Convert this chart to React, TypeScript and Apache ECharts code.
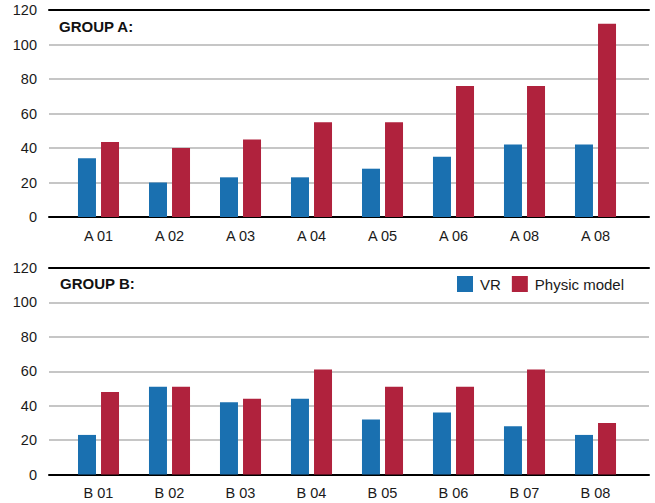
import React, { useEffect, useRef } from "react";
import * as echarts from "echarts";

const categoriesA = ["A 01", "A 02", "A 03", "A 04", "A 05", "A 06", "A 08", "A 08"];
const vrA = [34, 20, 23, 23, 28, 35, 42, 42];
const physicA = [43.5, 40, 45, 55, 55, 76, 76, 112];

const categoriesB = ["B 01", "B 02", "B 03", "B 04", "B 05", "B 06", "B 07", "B 08"];
const vrB = [23, 51, 42, 44, 32, 36, 28, 23];
const physicB = [48, 51, 44, 61, 51, 51, 61, 30];

const seriesNames = ["VR", "Physic model"];
const titles = ["GROUP A:", "GROUP B:"];

const BLUE = "#1a70b0";
const RED = "#b0223d";
const FONT = "Liberation Sans, Arial, sans-serif";

export default function App() {
  const ref = useRef<HTMLDivElement>(null);
  useEffect(() => {
    if (!ref.current) return;
    const chart = echarts.init(ref.current, null, { renderer: "svg" });
    const wideA = { left: 49, right: 6, top: 10, height: 207 };
    const wideB = { left: 49, right: 6, top: 268, height: 206.5 };
    const barA = { left: 63, right: 24, top: 10, height: 207 };
    const barB = { left: 63, right: 24, top: 268, height: 206.5 };

    const frameX = (gi: number, pos: string) => ({
      type: "value",
      gridIndex: gi,
      position: pos,
      min: 0,
      max: 1,
      axisLine: { show: true, onZero: false, lineStyle: { color: "#000", width: 2 } },
      axisTick: { show: false },
      axisLabel: { show: false },
      splitLine: { show: false },
    });
    const frameY = (gi: number) => ({
      type: "value",
      gridIndex: gi,
      min: 0,
      max: 120,
      interval: 20,
      axisLine: { show: false },
      axisTick: { show: false },
      axisLabel: { margin: 12, fontSize: 14.5, color: "#1a1a1a", fontFamily: FONT },
      splitLine: { show: true, lineStyle: { color: "#b3b3b3", width: 1.5 } },
    });
    const catX = (gi: number, cats: string[]) => ({
      type: "category",
      gridIndex: gi,
      data: cats,
      axisLine: { show: false },
      axisTick: { show: false },
      axisLabel: { margin: 11, fontSize: 14.5, color: "#1a1a1a", fontFamily: FONT, interval: 0 },
    });
    const hiddenY = (gi: number) => ({
      type: "value",
      gridIndex: gi,
      min: 0,
      max: 120,
      show: false,
      splitLine: { show: false },
    });

    const bar = (name: string, data: number[], color: string, xi: number, yi: number) => ({
      type: "bar",
      name,
      data,
      xAxisIndex: xi,
      yAxisIndex: yi,
      barWidth: 18,
      barGap: "28%",
      itemStyle: { color },
    });

    chart.setOption({
      animation: false,
      textStyle: { fontFamily: FONT },
      grid: [wideA, barA, wideB, barB],
      xAxis: [
        frameX(0, "bottom"),
        frameX(0, "top"),
        catX(1, categoriesA),
        frameX(2, "bottom"),
        frameX(2, "top"),
        catX(3, categoriesB),
      ],
      yAxis: [frameY(0), hiddenY(1), frameY(2), hiddenY(3)],
      legend: {
        data: seriesNames,
        left: 457,
        top: 276,
        padding: 0,
        itemWidth: 16,
        itemHeight: 16,
        itemGap: 11,
        icon: "rect",
        textStyle: { fontSize: 15, color: "#1a1a1a", fontFamily: FONT, padding: [0, 0, 0, 2] },
      },
      graphic: [
        {
          type: "text",
          left: 59,
          top: 19,
          style: { text: titles[0], font: `bold 15px ${FONT}`, fill: "#111" },
        },
        {
          type: "text",
          left: 60,
          top: 276,
          style: { text: titles[1], font: `bold 15px ${FONT}`, fill: "#111" },
        },
      ],
      series: [
        bar(seriesNames[0], vrA, BLUE, 2, 1),
        bar(seriesNames[1], physicA, RED, 2, 1),
        bar(seriesNames[0], vrB, BLUE, 5, 3),
        bar(seriesNames[1], physicB, RED, 5, 3),
      ],
    });
    return () => chart.dispose();
  }, []);
  return (
    <div
      ref={ref}
      style={{ position: "fixed", left: 0, top: 0, width: 655, height: 503, background: "#fff" }}
    />
  );
}
